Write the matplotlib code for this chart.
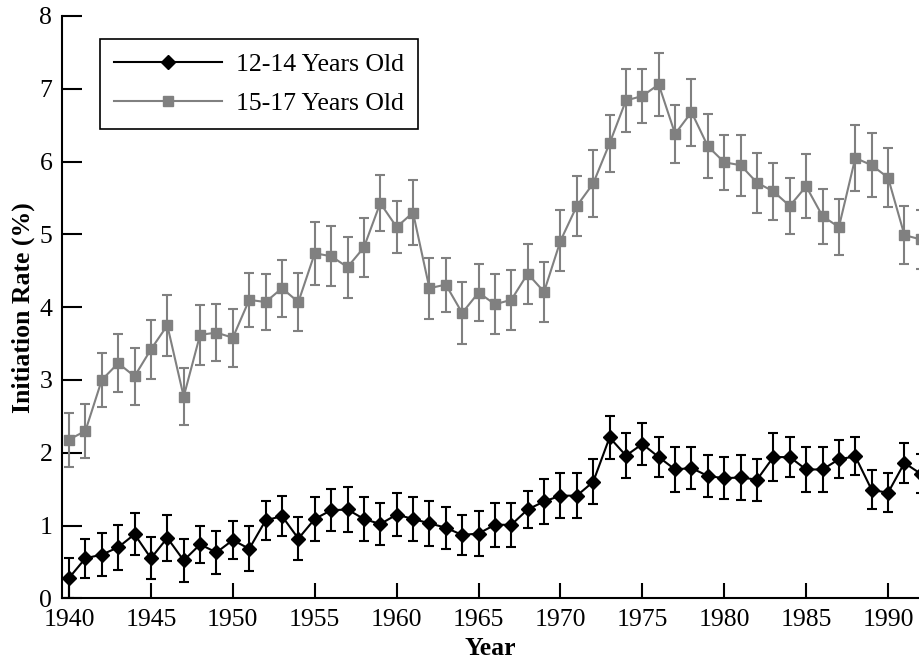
#!/usr/bin/env python
""" Initiation rate by year, two age groups, with error bars. """

# Third party modules.
import numpy as np
import matplotlib
matplotlib.use("Agg")
import matplotlib.pyplot as plt

# Globals and constants variables.
years = np.arange(1940, 1993)

rate_12_14 = [0.28, 0.55, 0.60, 0.70, 0.88, 0.55, 0.83, 0.52, 0.74, 0.63,
              0.80, 0.68, 1.07, 1.13, 0.82, 1.09, 1.21, 1.22, 1.09, 1.02,
              1.15, 1.09, 1.03, 0.97, 0.87, 0.89, 1.01, 1.01, 1.22, 1.33,
              1.41, 1.41, 1.60, 2.21, 1.96, 2.12, 1.94, 1.77, 1.79, 1.68,
              1.65, 1.66, 1.63, 1.94, 1.94, 1.77, 1.77, 1.91, 1.95, 1.49,
              1.45, 1.86, 1.71]
err_12_14 = [0.28, 0.27, 0.30, 0.31, 0.29, 0.29, 0.32, 0.30, 0.25, 0.30,
             0.26, 0.31, 0.27, 0.28, 0.30, 0.30, 0.29, 0.31, 0.30, 0.29,
             0.29, 0.30, 0.31, 0.29, 0.28, 0.31, 0.30, 0.30, 0.26, 0.31,
             0.31, 0.31, 0.31, 0.30, 0.31, 0.29, 0.28, 0.31, 0.29, 0.29,
             0.29, 0.31, 0.29, 0.33, 0.28, 0.31, 0.31, 0.26, 0.26, 0.27,
             0.27, 0.27, 0.27]

rate_15_17 = [2.18, 2.30, 3.00, 3.23, 3.05, 3.42, 3.75, 2.77, 3.62, 3.65,
              3.58, 4.10, 4.07, 4.26, 4.07, 4.74, 4.70, 4.55, 4.82, 5.43,
              5.10, 5.30, 4.26, 4.31, 3.92, 4.20, 4.04, 4.10, 4.46, 4.21,
              4.91, 5.39, 5.70, 6.25, 6.84, 6.90, 7.06, 6.38, 6.68, 6.21,
              5.99, 5.95, 5.71, 5.59, 5.39, 5.66, 5.25, 5.10, 6.05, 5.95,
              5.78, 4.99, 4.93]
err_15_17 = [0.37, 0.37, 0.37, 0.40, 0.39, 0.41, 0.42, 0.39, 0.41, 0.39,
             0.40, 0.37, 0.39, 0.39, 0.40, 0.43, 0.41, 0.42, 0.40, 0.39,
             0.36, 0.44, 0.42, 0.37, 0.42, 0.39, 0.41, 0.41, 0.41, 0.41,
             0.42, 0.41, 0.46, 0.39, 0.43, 0.37, 0.43, 0.40, 0.46, 0.44,
             0.38, 0.42, 0.41, 0.39, 0.38, 0.44, 0.38, 0.39, 0.45, 0.44,
             0.40, 0.40, 0.40]

xTicks = [1940, 1945, 1950, 1955, 1960, 1965, 1970, 1975, 1980, 1985, 1990]
yTicks = [0, 1, 2, 3, 4, 5, 6, 7, 8]

GRAY = "#808080"


def run():
    plt.rcParams["font.family"] = ["Liberation Serif", "DejaVu Serif"]
    plt.rcParams["font.size"] = 18.5

    fig = plt.figure(figsize=(9.19, 6.65), dpi=100)
    ax = fig.add_axes([62 / 919, 1 - 598.3 / 665, 1 - 62 / 919, (598.3 - 16) / 665])

    older = ax.errorbar(years, rate_15_17, yerr=err_15_17, fmt="-s", color=GRAY,
                        ecolor=GRAY, lw=1.5, ms=7, elinewidth=1.5, capsize=3.4,
                        capthick=1.5, zorder=2)
    younger = ax.errorbar(years, rate_12_14, yerr=err_12_14, fmt="-D", color="black",
                          ecolor="black", lw=1.5, ms=7.5, elinewidth=1.5, capsize=3.4,
                          capthick=1.5, zorder=3)

    ax.set_xlim(1939.57, 1991.89)
    ax.set_ylim(0, 8)
    ax.set_xticks(xTicks)
    ax.set_yticks(yTicks)

    for side in ["top", "right"]:
        ax.spines[side].set_visible(False)
    for side in ["left", "bottom"]:
        ax.spines[side].set_linewidth(1.5)

    ax.tick_params(axis="y", direction="in", length=14.4, width=1.5, pad=7)
    ax.tick_params(axis="x", direction="in", length=10.8, width=1.5, pad=8)

    ax.set_xlabel("Year", fontweight="bold", labelpad=4)
    ax.set_ylabel("Initiation Rate (%)", fontweight="bold", labelpad=3)

    # only line + marker in the legend, no error bars
    leg = ax.legend([younger.lines[0], older.lines[0]],
                    ["12-14 Years Old", "15-17 Years Old"], loc="upper left",
                    bbox_to_anchor=(38 / 857, 1 - 23 / 582), borderaxespad=0,
                    frameon=True, fancybox=False, edgecolor="black",
                    handlelength=4.2, handletextpad=0.55, labelspacing=0.6,
                    borderpad=0.55)
    leg.get_frame().set_linewidth(1.2)
    leg.get_frame().set_alpha(1)

    fig.savefig("out.png", dpi=100)


if __name__ == '__main__':
    run()
